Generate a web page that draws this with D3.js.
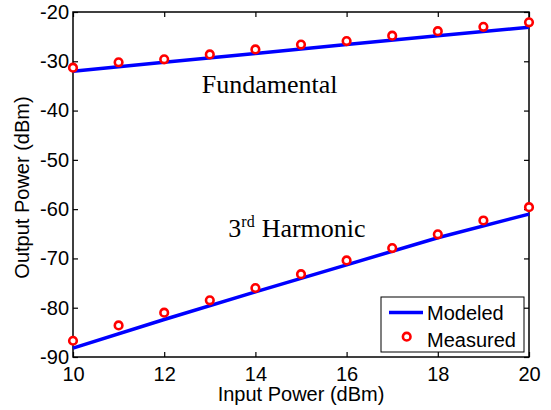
<!DOCTYPE html>
<html>
<head>
<meta charset="utf-8">
<script src="https://cdn.jsdelivr.net/npm/d3@7"></script>
<style>
  body { margin: 0; background: #fff; }
  svg { display: block; }
</style>
</head>
<body>
<div id="chart"></div>
<script>
// 1. DATA
const inputPower = [10, 11, 12, 13, 14, 15, 16, 17, 18, 19, 20]
const fundMeasured = [-31.3, -30.2, -29.6, -28.6, -27.6, -26.6, -25.9, -24.8, -23.9, -23.0, -22.1]
const harmMeasured = [-86.7, -83.6, -81.0, -78.5, -76.0, -73.2, -70.4, -67.9, -65.1, -62.3, -59.6]
const modelInput = [10, 12, 14, 16, 18, 20]
const fundModeled = [-32.0, -30.2, -28.4, -26.6, -24.8, -23.1]
const harmModeled = [-88.2, -82.4, -76.8, -71.3, -65.8, -61.0]
const xTicks = [10, 12, 14, 16, 18, 20]
const yTicks = [-20, -30, -40, -50, -60, -70, -80, -90]

// 2. DIMENSIONS
const dimensions = {
    width: 551,
    height: 410,
    margin: { top: 12, right: 22, bottom: 53, left: 73 }
}
dimensions.boundedWidth = dimensions.width - dimensions.margin.left - dimensions.margin.right
dimensions.boundedHeight = dimensions.height - dimensions.margin.top - dimensions.margin.bottom

// 3. DRAW CANVAS
const wrapper = d3.select("#chart")
    .append("svg")
    .attr("width", dimensions.width)
    .attr("height", dimensions.height)

const bounds = wrapper.append("g")
    .attr("transform", `translate(${dimensions.margin.left},${dimensions.margin.top})`)

// 4. SCALES
const xScale = d3.scaleLinear()
    .domain([10, 20])
    .range([0, dimensions.boundedWidth])
const yScale = d3.scaleLinear()
    .domain([-90, -20])
    .range([dimensions.boundedHeight, 0])

// 5. PERIPHERALS (ticks inside, box frame)
const sansFont = "'Liberation Sans', Arial, sans-serif"
const serifFont = "'Liberation Serif', 'Times New Roman', serif"
const plainFormat = d => String(d)   // plain hyphen minus like MATLAB

const xAxis = bounds.append("g")
    .attr("transform", `translate(0,${dimensions.boundedHeight})`)
    .call(d3.axisBottom(xScale).tickValues(xTicks).tickFormat(plainFormat)
        .tickSizeInner(-5).tickSizeOuter(0).tickPadding(10))
const yAxis = bounds.append("g")
    .call(d3.axisLeft(yScale).tickValues(yTicks).tickFormat(plainFormat)
        .tickSizeInner(-5).tickSizeOuter(0).tickPadding(4))
const xTop = bounds.append("g")
    .call(d3.axisTop(xScale).tickValues(xTicks).tickSizeInner(-5).tickSizeOuter(0).tickFormat(""))
const yRight = bounds.append("g")
    .attr("transform", `translate(${dimensions.boundedWidth},0)`)
    .call(d3.axisRight(yScale).tickValues(yTicks).tickSizeInner(-5).tickSizeOuter(0).tickFormat(""))

;[xAxis, yAxis, xTop, yRight].forEach(ax => {
    ax.select(".domain").remove()
    ax.selectAll(".tick line").attr("stroke", "#000").attr("stroke-width", 1.2)
    ax.selectAll("text")
        .attr("fill", "#000")
        .style("font-family", sansFont)
        .style("font-size", "20px")
})

bounds.append("rect")
    .attr("width", dimensions.boundedWidth)
    .attr("height", dimensions.boundedHeight)
    .attr("fill", "none")
    .attr("stroke", "#000")
    .attr("stroke-width", 1.5)

// 6. DRAW DATA
const lineGen = d3.line()
    .x(d => xScale(d[0]))
    .y(d => yScale(d[1]))

;[fundModeled, harmModeled].forEach(series => {
    bounds.append("path")
        .datum(modelInput.map((x, i) => [x, series[i]]))
        .attr("d", lineGen)
        .attr("fill", "none")
        .attr("stroke", "#0000ff")
        .attr("stroke-width", 3.5)
})

;[fundMeasured, harmMeasured].forEach(series => {
    bounds.selectAll(null)
        .data(inputPower.map((x, i) => [x, series[i]]))
      .enter().append("circle")
        .attr("cx", d => xScale(d[0]))
        .attr("cy", d => yScale(d[1]))
        .attr("r", 3.8)
        .attr("fill", "#fff")
        .attr("stroke", "#ff0000")
        .attr("stroke-width", 2.6)
})

// annotations
bounds.append("text")
    .attr("x", 201.7 - dimensions.margin.left)
    .attr("y", 93 - dimensions.margin.top)
    .style("font-family", serifFont)
    .style("font-size", "26px")
    .text("Fundamental")

const harmLabel = bounds.append("text")
    .attr("x", 228.3 - dimensions.margin.left)
    .attr("y", 237 - dimensions.margin.top)
    .style("font-family", serifFont)
    .style("font-size", "26px")
harmLabel.append("tspan").text("3")
harmLabel.append("tspan").attr("dy", -10).style("font-size", "16px").text("rd")
harmLabel.append("tspan").attr("dy", 10).attr("dx", 7).text("Harmonic")

// axis labels
wrapper.append("text")
    .attr("x", dimensions.margin.left + dimensions.boundedWidth / 2)
    .attr("y", 401)
    .attr("text-anchor", "middle")
    .style("font-family", sansFont)
    .style("font-size", "20px")
    .text("Input Power (dBm)")

wrapper.append("text")
    .attr("transform", `translate(29,${dimensions.margin.top + dimensions.boundedHeight / 2 + 3}) rotate(-90)`)
    .attr("text-anchor", "middle")
    .style("font-family", sansFont)
    .style("font-size", "20px")
    .text("Output Power (dBm)")

// legend
const legend = wrapper.append("g")
    .attr("transform", "translate(381,297)")
legend.append("rect")
    .attr("width", 143)
    .attr("height", 55)
    .attr("fill", "#fff")
    .attr("stroke", "#000")
    .attr("stroke-width", 1)
legend.append("line")
    .attr("x1", 8).attr("x2", 42)
    .attr("y1", 15.5).attr("y2", 15.5)
    .attr("stroke", "#0000ff")
    .attr("stroke-width", 3.5)
legend.append("circle")
    .attr("cx", 25.7).attr("cy", 39.7)
    .attr("r", 3.8)
    .attr("fill", "#fff")
    .attr("stroke", "#ff0000")
    .attr("stroke-width", 2.6)
legend.append("text")
    .attr("x", 46).attr("y", 23)
    .style("font-family", sansFont)
    .style("font-size", "20px")
    .text("Modeled")
legend.append("text")
    .attr("x", 46).attr("y", 49.5)
    .style("font-family", sansFont)
    .style("font-size", "20px")
    .text("Measured")
</script>
</body>
</html>
